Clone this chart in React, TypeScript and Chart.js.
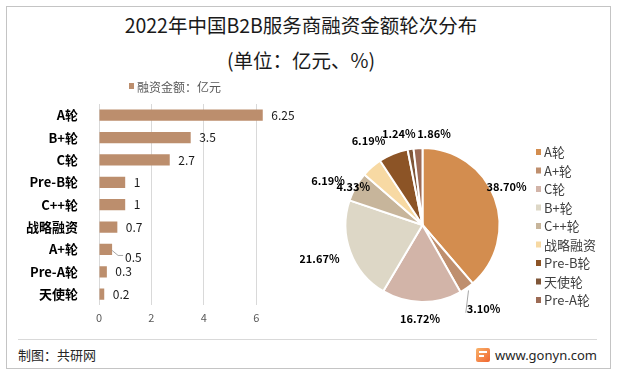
import React, { useEffect, useRef } from "react";
import { Chart, registerables } from "chart.js";

Chart.register(...registerables);

const titleText = "2022年中国B2B服务商融资金额轮次分布";
const subtitleText = "(单位：亿元、%)";
const barSeriesLabel = "融资金额：亿元";
const barCategories = ["A轮", "B+轮", "C轮", "Pre-B轮", "C++轮", "战略融资", "A+轮", "Pre-A轮", "天使轮"];
const barValues = [6.25, 3.5, 2.7, 1, 1, 0.7, 0.5, 0.3, 0.2];
const xTickValues = [0, 2, 4, 6];
const pieCategories = ["A轮", "A+轮", "C轮", "B+轮", "C++轮", "战略融资", "Pre-B轮", "天使轮", "Pre-A轮"];
const pieShares = [38.7, 3.1, 16.72, 21.67, 6.19, 4.33, 6.19, 1.24, 1.86];
const pieColors = ["#D38D4F", "#BF8F6E", "#D2B4A8", "#DDD7C6", "#C7B59B", "#F7D9A3", "#8C5426", "#7F5638", "#9C6B55"];
const barColor = "#BC8E6D";
const sourceText = "制图：共研网";
const siteText = "www.gonyn.com";

const FONT = '"Noto Sans CJK SC", "Noto Sans", sans-serif';

// label placement tweaks (text only)
const barLabelLeader: Record<string, [number, number]> = { "A+轮": [13, 7.5] };
const pieLabelNudge: [number, number][] = [
  [-5, -5],
  [6.5, 6],
  [-1.5, -1],
  [-14, 0.5],
  [-12, 3],
  [-6.5, 33],
  [-18, 4],
  [-9, 3],
  [17, 4],
];
const pieLeader = [false, true, false, false, false, false, false, false, false];

const barLabelsPlugin = {
  id: "barLabels",
  afterDatasetsDraw(chart: any) {
    const ctx = chart.ctx as CanvasRenderingContext2D;
    const meta = chart.getDatasetMeta(0);
    ctx.save();
    ctx.font = `12px ${FONT}`;
    ctx.fillStyle = "#1A1A1A";
    ctx.textBaseline = "middle";
    ctx.textAlign = "left";
    meta.data.forEach((bar: any, i: number) => {
      const text = String(barValues[i]);
      const shift = barLabelLeader[barCategories[i]];
      if (shift) {
        ctx.strokeStyle = "#A6A6A6";
        ctx.lineWidth = 1;
        ctx.beginPath();
        ctx.moveTo(bar.x, bar.y + 1);
        ctx.lineTo(bar.x + 6, bar.y + shift[1] - 1.5);
        ctx.lineTo(bar.x + shift[0] - 2, bar.y + shift[1] - 1.5);
        ctx.stroke();
        ctx.fillText(text, bar.x + shift[0], bar.y + shift[1]);
      } else {
        ctx.fillText(text, bar.x + 8.5, bar.y);
      }
    });
    // series legend
    ctx.fillStyle = barColor;
    ctx.fillRect(129, 8, 5, 6);
    ctx.fillStyle = "#595959";
    ctx.font = `12px ${FONT}`;
    ctx.fillText(chart.data.datasets[0].label, 137, 12);
    ctx.restore();
  },
};

const pieLabelsPlugin = {
  id: "pieLabels",
  afterDatasetsDraw(chart: any) {
    const ctx = chart.ctx as CanvasRenderingContext2D;
    const meta = chart.getDatasetMeta(0);
    ctx.save();
    ctx.font = `bold 11px ${FONT}`;
    ctx.fillStyle = "#000";
    ctx.textAlign = "center";
    ctx.textBaseline = "middle";
    meta.data.forEach((arc: any, i: number) => {
      const p = arc.getProps(["x", "y", "startAngle", "endAngle", "outerRadius"], true);
      const mid = (p.startAngle + p.endAngle) / 2;
      const R = p.outerRadius + 18;
      const [dx, dy] = pieLabelNudge[i];
      const lx = p.x + Math.cos(mid) * R + dx;
      const ly = p.y + Math.sin(mid) * R + dy;
      const text = pieShares[i].toFixed(2) + "%";
      if (pieLeader[i]) {
        const w = ctx.measureText(text).width;
        const sx = p.x + Math.cos(mid) * (p.outerRadius + 3);
        const sy = p.y + Math.sin(mid) * (p.outerRadius + 3);
        ctx.strokeStyle = "#A6A6A6";
        ctx.lineWidth = 1;
        ctx.beginPath();
        ctx.moveTo(sx, sy);
        ctx.lineTo(lx - w / 2 - 1, ly + 4);
        ctx.stroke();
      }
      ctx.fillText(text, lx, ly);
    });
    // legend
    ctx.textAlign = "left";
    ctx.font = `13px ${FONT}`;
    chart.data.labels.forEach((lab: string, i: number) => {
      const cy = 52 + i * 18.5;
      ctx.fillStyle = pieColors[i];
      ctx.fillRect(236, cy - 3, 5, 6);
      ctx.fillStyle = "#404040";
      ctx.fillText(lab, 244, cy + 0.5);
    });
    ctx.restore();
  },
};

export default function App() {
  const barRef = useRef<HTMLCanvasElement>(null);
  const pieRef = useRef<HTMLCanvasElement>(null);

  useEffect(() => {
    const barChart = new Chart(barRef.current as HTMLCanvasElement, {
      type: "bar",
      data: {
        labels: barCategories,
        datasets: [
          {
            label: barSeriesLabel,
            data: barValues,
            backgroundColor: barColor,
            barPercentage: 0.5,
            categoryPercentage: 1,
          },
        ],
      },
      options: {
        indexAxis: "y",
        animation: false,
        responsive: false,
        maintainAspectRatio: false,
        layout: { padding: { top: 29, right: 17.6, left: 0, bottom: 0 } },
        plugins: { legend: { display: false }, tooltip: { enabled: false } },
        scales: {
          x: {
            min: 0,
            max: 7,
            afterBuildTicks: (s: any) => {
              s.ticks = xTickValues.map((v) => ({ value: v }));
            },
            afterFit: (s: any) => {
              s.height = 29.6;
            },
            grid: { color: "#D9D9D9", drawTicks: false },
            border: { display: false },
            ticks: { padding: 6, color: "#595959", font: { size: 11, family: FONT } },
          },
          y: {
            afterFit: (s: any) => {
              s.width = 99;
            },
            grid: { display: false },
            border: { display: false },
            ticks: { padding: 13, color: "#000", font: { size: 13, weight: "bold", family: FONT } },
          },
        },
      } as any,
      plugins: [barLabelsPlugin],
    });

    const pieChart = new Chart(pieRef.current as HTMLCanvasElement, {
      type: "pie",
      data: {
        labels: pieCategories,
        datasets: [
          {
            data: pieShares,
            backgroundColor: pieColors,
            borderColor: "#FFFFFF",
            borderWidth: 2,
          },
        ],
      },
      options: {
        animation: false,
        responsive: false,
        maintainAspectRatio: false,
        layout: { padding: { left: 44.5, right: 111.5, top: 47, bottom: 33 } },
        plugins: { legend: { display: false }, tooltip: { enabled: false } },
      } as any,
      plugins: [pieLabelsPlugin],
    });

    return () => {
      barChart.destroy();
      pieChart.destroy();
    };
  }, []);

  return (
    <div
      style={{
        position: "absolute",
        left: 0,
        top: 0,
        width: 619,
        height: 376,
        background: "#FFFFFF",
        overflow: "hidden",
        fontFamily: FONT,
      }}
    >
      <div
        style={{
          position: "absolute",
          left: 6,
          top: 6,
          width: 605,
          height: 363,
          boxSizing: "border-box",
          border: "1px solid #C4C4C4",
        }}
      />
      <div
        style={{
          position: "absolute",
          left: 0,
          top: 12,
          width: 602,
          textAlign: "center",
          fontSize: 19.5,
          lineHeight: "26px",
          color: "#1A1A1A",
        }}
      >
        {titleText}
      </div>
      <div
        style={{
          position: "absolute",
          left: 0,
          top: 47,
          width: 602,
          textAlign: "center",
          fontSize: 19.5,
          lineHeight: "26px",
          color: "#1A1A1A",
        }}
      >
        {subtitleText}
      </div>
      <canvas
        ref={barRef}
        width={300}
        height={260}
        style={{ position: "absolute", left: 0, top: 75, width: 300, height: 260 }}
      />
      <canvas
        ref={pieRef}
        width={312}
        height={236}
        style={{ position: "absolute", left: 300, top: 100, width: 312, height: 236 }}
      />
      <div style={{ position: "absolute", left: 18, top: 339, width: 579, height: 1, background: "#D9D9D9" }} />
      <div
        style={{
          position: "absolute",
          left: 18,
          top: 346,
          fontSize: 13,
          lineHeight: "18px",
          color: "#262626",
        }}
      >
        {sourceText}
      </div>
      <div
        style={{
          position: "absolute",
          left: 476,
          top: 348,
          width: 14,
          height: 14,
          borderRadius: 2,
          background: "linear-gradient(135deg, #F9B36B, #F0642E)",
        }}
      >
        <div style={{ position: "absolute", left: 3, top: 3, width: 8, height: 2, background: "#FFFFFF" }} />
        <div style={{ position: "absolute", left: 3, top: 7, width: 5, height: 2, background: "#FFFFFF" }} />
      </div>
      <div
        style={{
          position: "absolute",
          left: 495,
          top: 346,
          fontSize: 13,
          lineHeight: "18px",
          color: "#262626",
          fontFamily: '"Noto Sans", sans-serif',
        }}
      >
        {siteText}
      </div>
    </div>
  );
}
